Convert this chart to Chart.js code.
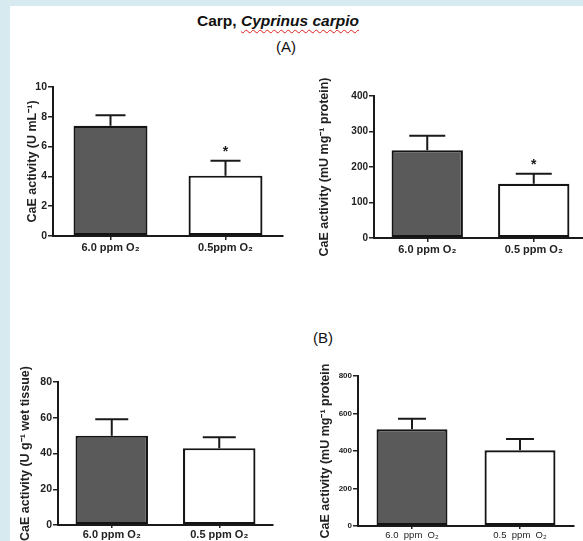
<!DOCTYPE html>
<html><head><meta charset="utf-8">
<script src="https://cdn.jsdelivr.net/npm/chart.js@4"></script>
<style>
html,body{margin:0;padding:0;width:583px;height:541px;overflow:hidden;background:#d6eaf0;position:relative;}
#panel{position:absolute;left:10px;top:6px;width:573px;height:535px;background:#fff;}
canvas{position:absolute;}
.t{position:absolute;font-family:"Liberation Sans",Arial,sans-serif;color:#111;white-space:nowrap;line-height:1.117;}
</style></head><body>
<div id="panel"></div>
<div class="t" style="left:197px;top:12px;font-size:15.5px;font-weight:bold;">Carp, <i style="text-decoration:underline wavy #e02020;text-decoration-thickness:1px;text-underline-offset:3px;">Cyprinus carpio</i></div>
<div class="t" style="left:276px;top:39px;font-size:15px;">(A)</div>
<div class="t" style="left:313px;top:330px;font-size:15px;">(B)</div>
<canvas id="cA1"></canvas>
<canvas id="cA2"></canvas>
<canvas id="cB1"></canvas>
<canvas id="cB2"></canvas>
<script>
// ---- data ----
const labelsA1 = ['6.0 ppm O₂', '0.5ppm O₂'];
const valuesA1 = [7.4, 4.05];
const errorsA1 = [0.7, 1.0];
const sigA1 = ['', '*'];
const titleA1 = 'CaE activity (U mL⁻¹)';

const labelsA2 = ['6.0 ppm O₂', '0.5 ppm O₂'];
const valuesA2 = [247, 153];
const errorsA2 = [41, 28];
const sigA2 = ['', '*'];
const titleA2 = 'CaE activity (mU mg⁻¹ protein)';

const labelsB1 = ['6.0 ppm O₂', '0.5 ppm O₂'];
const valuesB1 = [50, 43];
const errorsB1 = [9.2, 6.1];
const sigB1 = ['', ''];
const titleB1 = 'CaE activity (U g⁻¹ wet tissue)';

const labelsB2 = ['6.0  ppm  O₂', '0.5  ppm  O₂'];
const valuesB2 = [516, 404];
const errorsB2 = [56, 60];
const sigB2 = ['', ''];
const titleB2 = 'CaE activity (mU mg⁻¹ protein';

const FONT = '"Liberation Sans", Arial, sans-serif';

const errPlugin = {
  id: 'err',
  afterDatasetsDraw(chart, args, opts) {
    const ctx = chart.ctx;
    const meta = chart.getDatasetMeta(0);
    const ys = chart.scales.y;
    const ds = chart.data.datasets[0];
    ctx.save();
    ctx.strokeStyle = '#1a1a1a';
    ctx.lineWidth = 2;
    meta.data.forEach((bar, i) => {
      const v = ds.data[i], e = opts.err[i];
      const yTop = ys.getPixelForValue(v + e), yV = ys.getPixelForValue(v);
      ctx.beginPath();
      ctx.moveTo(bar.x, yV); ctx.lineTo(bar.x, yTop);
      ctx.moveTo(bar.x - opts.cap, yTop); ctx.lineTo(bar.x + opts.cap, yTop);
      ctx.stroke();
      if (opts.sig[i]) {
        ctx.fillStyle = '#1a1a1a';
        ctx.font = 'bold 14px ' + FONT;
        ctx.textAlign = 'center';
        ctx.textBaseline = 'alphabetic';
        ctx.fillText(opts.sig[i], bar.x, yTop - 5);
      }
    });
    ctx.restore();
  }
};

function build(id, box, area, titleX, cfg) {
  const c = document.getElementById(id);
  c.width = box.w; c.height = box.h;
  c.style.left = box.x + 'px'; c.style.top = box.y + 'px';
  c.style.width = box.w + 'px'; c.style.height = box.h + 'px';
  const lh = 12.5 * 1.2;
  new Chart(c, {
    type: 'bar',
    data: {
      labels: cfg.labels,
      datasets: [{
        data: cfg.values,
        backgroundColor: ['#5a5a5a', '#ffffff'],
        borderColor: '#141414',
        borderWidth: 2.2,
        borderSkipped: false,
        barPercentage: cfg.barPct,
        categoryPercentage: 1
      }]
    },
    options: {
      responsive: false, animation: false, devicePixelRatio: 1,
      layout: { padding: { left: 0, top: area.t - box.y, right: box.x + box.w - area.r, bottom: 0 } },
      plugins: {
        legend: { display: false }, tooltip: { enabled: false },
        err: { err: cfg.err, sig: cfg.sig, cap: cfg.cap }
      },
      scales: {
        x: {
          grid: { display: true, drawOnChartArea: false, offset: false, tickLength: cfg.xTick, color: '#222', lineWidth: 1.5 },
          border: { display: true, color: '#1a1a1a', width: 2 },
          ticks: { color: '#222', font: cfg.xFont, padding: cfg.xPad, maxRotation: 0, autoSkip: false },
          afterFit(s) { s.height = box.y + box.h - area.b; }
        },
        y: {
          min: 0, max: cfg.max,
          ticks: { stepSize: cfg.step, color: '#222', font: cfg.yFont, padding: 1 },
          grid: { display: true, drawOnChartArea: false, tickLength: 5, color: '#222', lineWidth: 1.5 },
          border: { display: true, color: '#1a1a1a', width: 2 },
          title: { display: true, text: cfg.yTitle, color: '#222', font: { family: FONT, size: 12.5, weight: 'bold' }, padding: { top: titleX - box.x - lh / 2, bottom: 0 } },
          afterFit(s) { s.width = area.l - box.x; }
        }
      }
    },
    plugins: [errPlugin]
  });
}

build('cA1', { x: 10, y: 70, w: 285, h: 190 }, { l: 53, r: 283, t: 87, b: 236 }, 33, {
  labels: labelsA1, values: valuesA1, err: errorsA1, sig: sigA1, yTitle: titleA1,
  max: 10, step: 2, barPct: 0.643, cap: 15, xTick: 4, xPad: 1,
  yFont: { family: FONT, size: 10.5, weight: 'bold' }, xFont: { family: FONT, size: 11, weight: 'bold' }
});
build('cA2', { x: 300, y: 70, w: 300, h: 190 }, { l: 374, r: 587, t: 96, b: 238 }, 325, {
  labels: labelsA2, values: valuesA2, err: errorsA2, sig: sigA2, yTitle: titleA2,
  max: 400, step: 100, barPct: 0.67, cap: 18, xTick: 4, xPad: 1,
  yFont: { family: FONT, size: 10, weight: 'bold' }, xFont: { family: FONT, size: 11, weight: 'bold' }
});
build('cB1', { x: 10, y: 350, w: 280, h: 191 }, { l: 58, r: 273, t: 382, b: 525 }, 26, {
  labels: labelsB1, values: valuesB1, err: errorsB1, sig: sigB1, yTitle: titleB1,
  max: 80, step: 20, barPct: 0.674, cap: 16.5, xTick: 3, xPad: 0,
  yFont: { family: FONT, size: 10.5, weight: 'bold' }, xFont: { family: FONT, size: 11, weight: 'bold' }
});
build('cB2', { x: 300, y: 350, w: 283, h: 191 }, { l: 358, r: 574, t: 376, b: 526 }, 326, {
  labels: labelsB2, values: valuesB2, err: errorsB2, sig: sigB2, yTitle: titleB2,
  max: 800, step: 200, barPct: 0.657, cap: 14, xTick: 3, xPad: 1,
  yFont: { family: FONT, size: 8, weight: 'bold' }, xFont: { family: FONT, size: 9.5, weight: 'normal' }
});
</script>
</body></html>
